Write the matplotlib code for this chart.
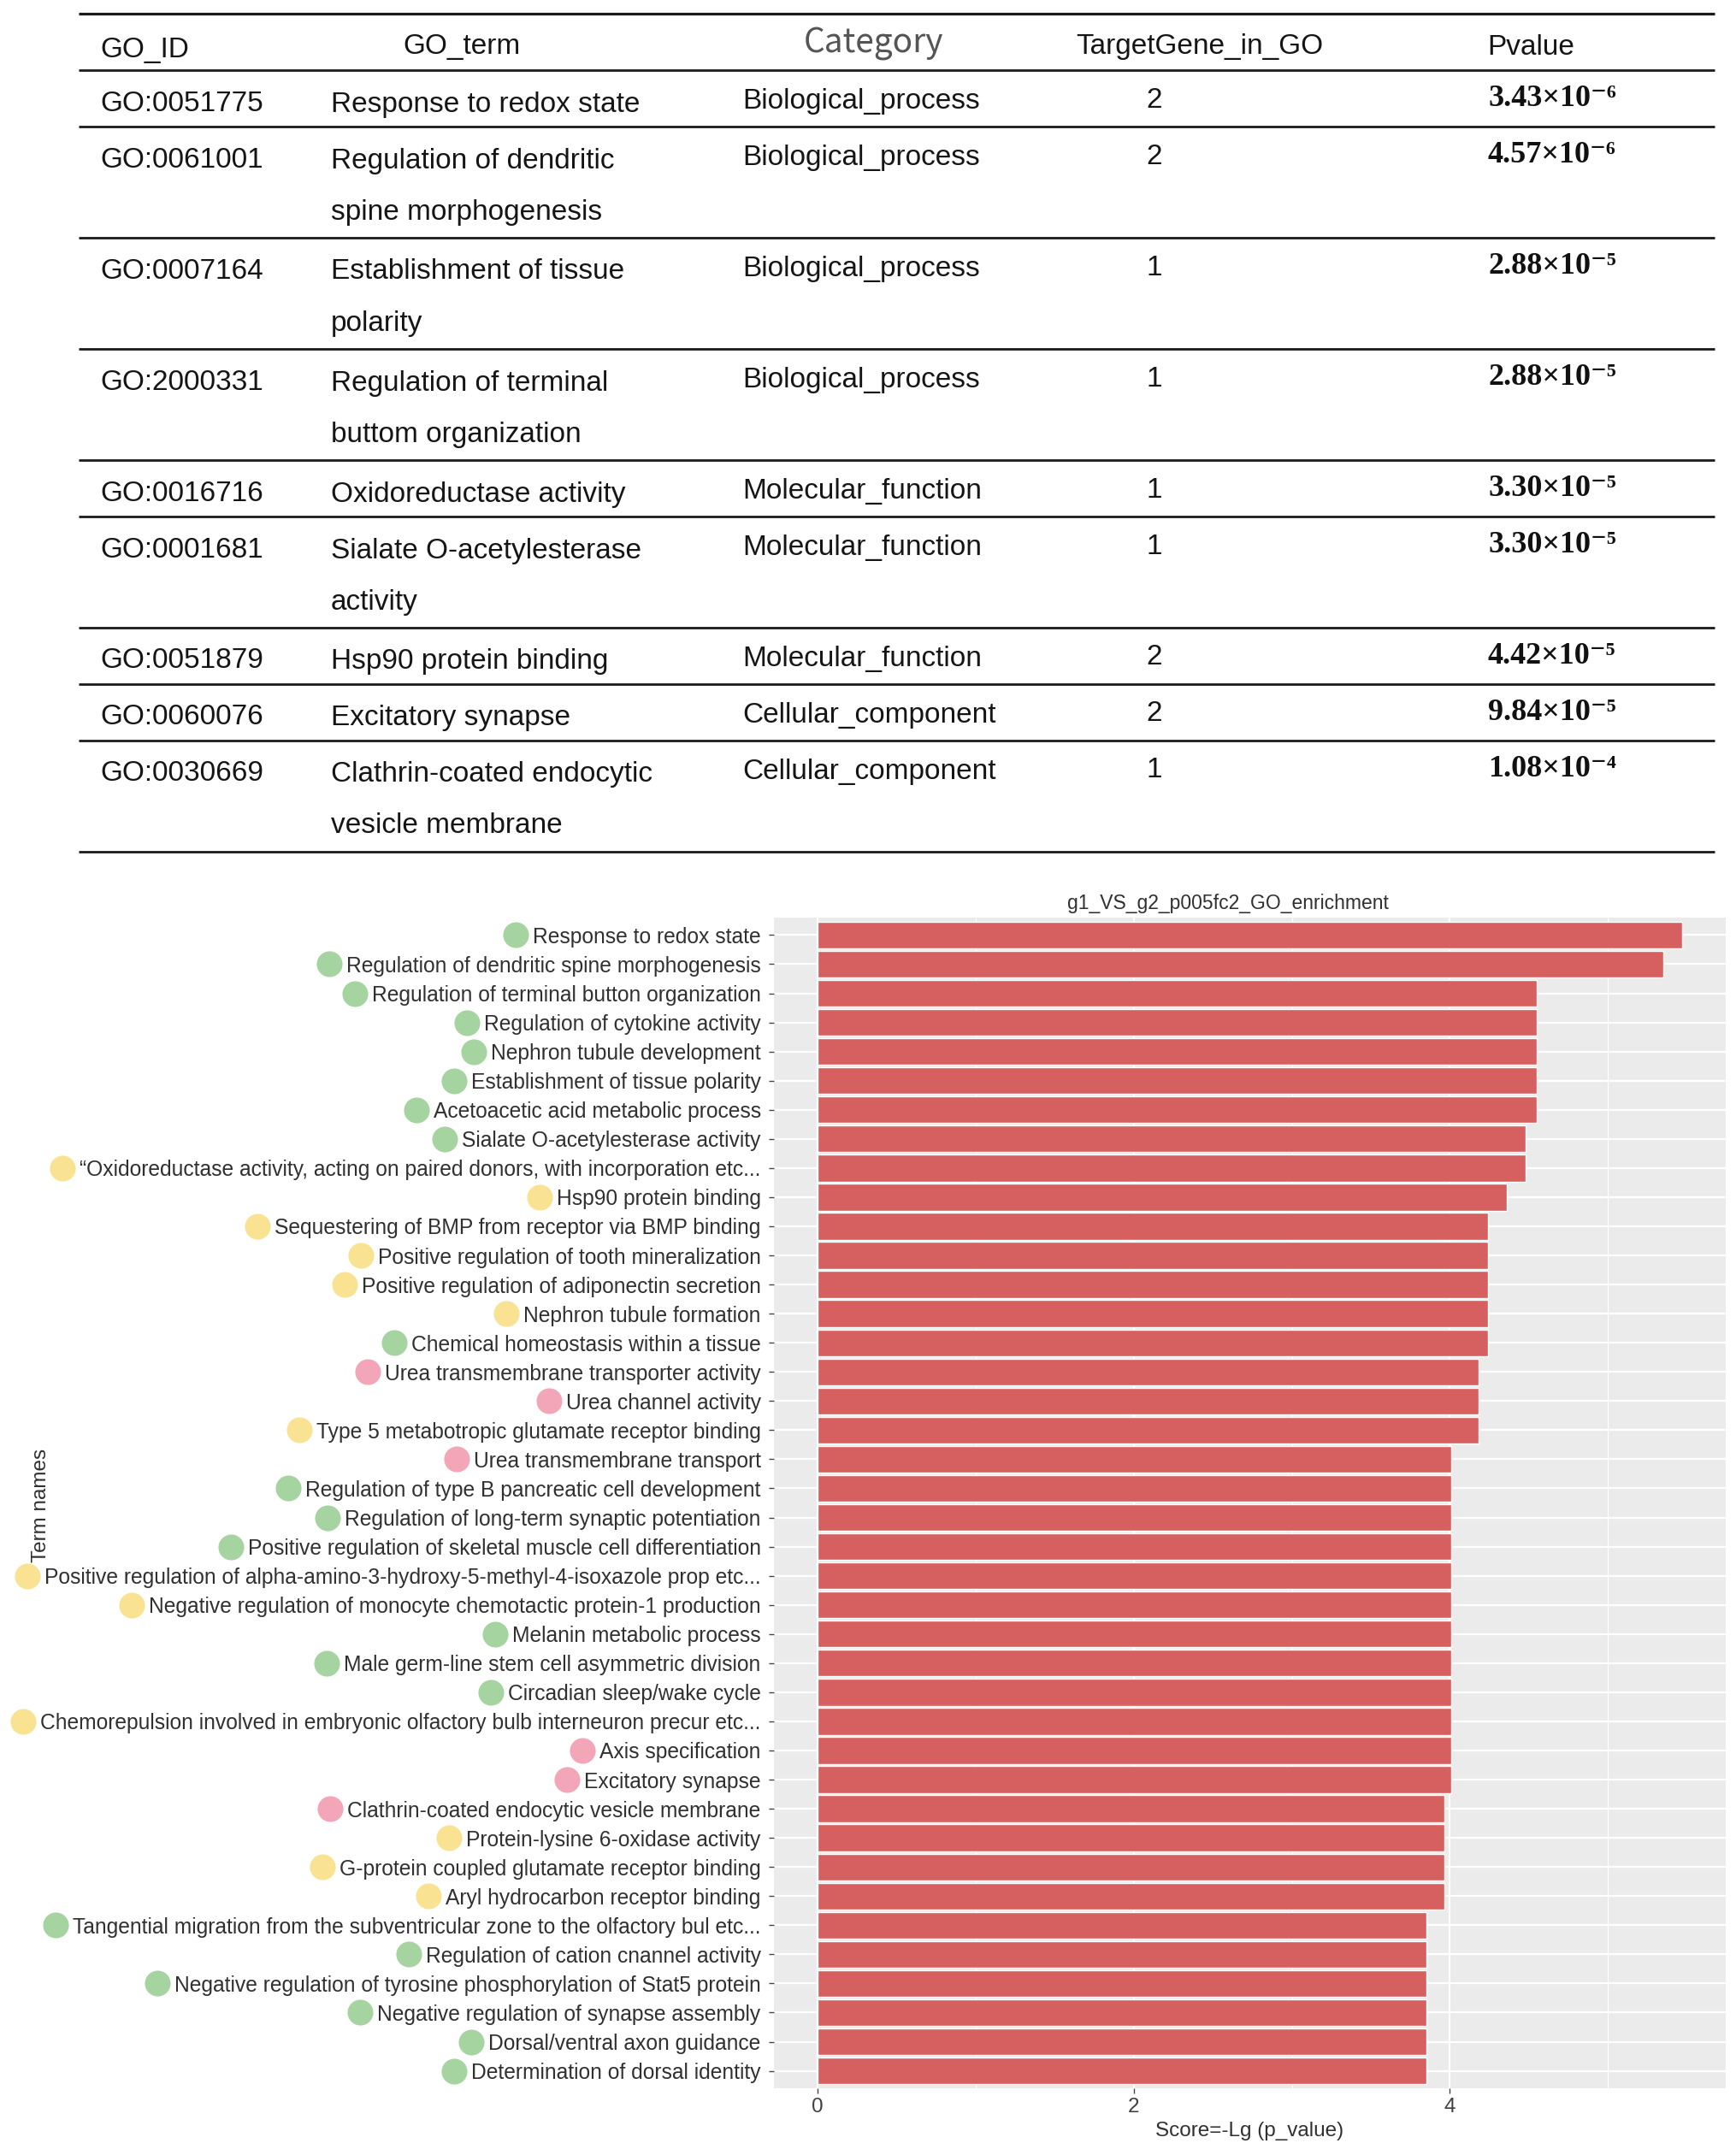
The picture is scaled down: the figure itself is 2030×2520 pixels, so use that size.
import matplotlib
matplotlib.use("Agg")
import matplotlib.pyplot as plt

plt.rcParams["font.family"] = ["Liberation Sans", "DejaVu Sans"]

# ---- table data ----
go_ids = ["GO:0051775", "GO:0061001", "GO:0007164", "GO:2000331", "GO:0016716",
          "GO:0001681", "GO:0051879", "GO:0060076", "GO:0030669"]
go_terms = ["Response to redox state",
            "Regulation of dendritic\nspine morphogenesis",
            "Establishment of tissue\npolarity",
            "Regulation of terminal\nbuttom organization",
            "Oxidoreductase activity",
            "Sialate O-acetylesterase\nactivity",
            "Hsp90 protein binding",
            "Excitatory synapse",
            "Clathrin-coated endocytic\nvesicle membrane"]
categories = ["Biological_process"] * 4 + ["Molecular_function"] * 3 + ["Cellular_component"] * 2
target_genes = [2, 2, 1, 1, 1, 1, 2, 2, 1]
p_mant = [3.43, 4.57, 2.88, 2.88, 3.30, 3.30, 4.42, 9.84, 1.08]
p_exp = [-6, -6, -5, -5, -5, -5, -5, -5, -4]
headers = ["GO_ID", "GO_term", "Category", "TargetGene_in_GO", "Pvalue"]

# ---- bar chart data ----
term_names = [
    "Response to redox state",
    "Regulation of dendritic spine morphogenesis",
    "Regulation of terminal button organization",
    "Regulation of cytokine activity",
    "Nephron tubule development",
    "Establishment of tissue polarity",
    "Acetoacetic acid metabolic process",
    "Sialate O-acetylesterase activity",
    "\u201cOxidoreductase activity, acting on paired donors, with incorporation etc...",
    "Hsp90 protein binding",
    "Sequestering of BMP from receptor via BMP binding",
    "Positive regulation of tooth mineralization",
    "Positive regulation of adiponectin secretion",
    "Nephron tubule formation",
    "Chemical homeostasis within a tissue",
    "Urea transmembrane transporter activity",
    "Urea channel activity",
    "Type 5 metabotropic glutamate receptor binding",
    "Urea transmembrane transport",
    "Regulation of type B pancreatic cell development",
    "Regulation of long-term synaptic potentiation",
    "Positive regulation of skeletal muscle cell differentiation",
    "Positive regulation of alpha-amino-3-hydroxy-5-methyl-4-isoxazole prop etc...",
    "Negative regulation of monocyte chemotactic protein-1 production",
    "Melanin metabolic process",
    "Male germ-line stem cell asymmetric division",
    "Circadian sleep/wake cycle",
    "Chemorepulsion involved in embryonic olfactory bulb interneuron precur etc...",
    "Axis specification",
    "Excitatory synapse",
    "Clathrin-coated endocytic vesicle membrane",
    "Protein-lysine 6-oxidase activity",
    "G-protein coupled glutamate receptor binding",
    "Aryl hydrocarbon receptor binding",
    "Tangential migration from the subventricular zone to the olfactory bul etc...",
    "Regulation of cation cnannel activity",
    "Negative regulation of tyrosine phosphorylation of Stat5 protein",
    "Negative regulation of synapse assembly",
    "Dorsal/ventral axon guidance",
    "Determination of dorsal identity",
]
scores = [5.47, 5.35, 4.55, 4.55, 4.55, 4.55, 4.55, 4.48, 4.48, 4.36,
          4.24, 4.24, 4.24, 4.24, 4.24, 4.18, 4.18, 4.18, 4.01, 4.01,
          4.01, 4.01, 4.01, 4.01, 4.01, 4.01, 4.01, 4.01, 4.01, 4.01,
          3.965, 3.965, 3.965, 3.965, 3.85, 3.85, 3.85, 3.85, 3.85, 3.85]
term_cats = ["BP", "BP", "BP", "BP", "BP", "BP", "BP", "BP", "MF", "MF",
             "MF", "MF", "MF", "MF", "BP", "CC", "CC", "MF", "CC", "BP",
             "BP", "BP", "MF", "MF", "BP", "BP", "BP", "MF", "CC", "CC",
             "CC", "MF", "MF", "MF", "BP", "BP", "BP", "BP", "BP", "BP"]
cat_colors = {"BP": "#A6D4A0", "MF": "#F9E292", "CC": "#F2A6B8"}

SUP = str.maketrans("-0123456789", "\u207b\u2070\u00b9\u00b2\u00b3\u2074\u2075\u2076\u2077\u2078\u2079")

W, H = 2031, 2520
fig = plt.figure(figsize=(W / 100, H / 100), dpi=100)

# ---------------- table ----------------
tbl_h = 1000
ax_t = fig.add_axes([0, 1 - tbl_h / H, 1, tbl_h / H])
ax_t.set_xlim(0, W)
ax_t.set_ylim(tbl_h, 0)
ax_t.axis("off")

x0, x1 = 92, 2005
top = 16
row_h1, row_h2 = 66, 130
txt = dict(fontsize=24, color="#151515", va="center")

ax_t.hlines(top, x0, x1, color="#1a1a1a", lw=2.3)
ax_t.text(117, top + 42, headers[0], ha="left", **txt)
ax_t.text(540, top + 39, headers[1], ha="center", **txt)
ax_t.text(1022, top + 35, headers[2], ha="center", fontsize=28, color="#555555",
          va="center", family=["Noto Sans CJK SC", "DejaVu Sans"])
ax_t.text(1403, top + 39, headers[3], ha="center", **txt)
ax_t.text(1739, top + 39, headers[4], ha="left", **txt)
y = top + row_h1
ax_t.hlines(y, x0, x1, color="#1a1a1a", lw=2.0)

for gid, term, cat, ng, m, e in zip(go_ids, go_terms, categories, target_genes, p_mant, p_exp):
    lines = term.split("\n")
    h = row_h1 if len(lines) == 1 else row_h2
    ax_t.text(117, y + 39, gid, ha="left", **txt)
    for k, ln in enumerate(lines):
        ax_t.text(387, y + 40 + 60 * k, ln, ha="left", **txt)
    ax_t.text(868, y + 37, cat, ha="left", **txt)
    ax_t.text(1350, y + 35, str(ng), ha="center", **txt)
    ptxt = f"{m:.2f}\u00d710" + str(e).translate(SUP)
    ax_t.text(1740, y + 34, ptxt, ha="left", va="center", fontsize=26, fontweight="bold",
              color="#111111", family=["Liberation Serif", "DejaVu Serif"])
    y += h
    ax_t.hlines(y, x0, x1, color="#1a1a1a", lw=2.0)

# ---------------- bar chart ----------------
left, right, bottom, ptop = 905, 2018, 2442, 1073
ax = fig.add_axes([left / W, 1 - bottom / H, (right - left) / W, (bottom - ptop) / H])
ax.set_facecolor("#EBEBEB")
positions = list(range(1, len(term_names) + 1))
ax.barh(positions, scores, height=0.92, color="#D6605F", edgecolor="white", linewidth=1.0, zorder=3)

xmax = max(scores)
ax.set_xlim(-0.05 * xmax, 1.05 * xmax)
ax.set_ylim(len(term_names) + 0.6, 0.4)
ax.set_xticks([0, 2, 4])
ax.set_xticks([1, 3, 5], minor=True)
ax.set_yticks(positions)
ax.set_yticklabels(term_names)
ax.grid(True, which="major", color="white", lw=1.6, zorder=0)
ax.grid(True, which="minor", axis="x", color="white", lw=0.8, zorder=0)
ax.set_axisbelow(True)
for s in ax.spines.values():
    s.set_visible(False)
ax.tick_params(axis="y", which="major", length=4, width=1, color="#444444", pad=7,
               labelsize=17.7, labelcolor="#303030")
ax.tick_params(axis="x", which="major", length=4, width=1, color="#444444", pad=4,
               labelsize=17.5, labelcolor="#404040")
ax.tick_params(axis="x", which="minor", length=0)
fig.text(1436 / W, 1 - 1056 / H, "g1_VS_g2_p005fc2_GO_enrichment", ha="center", va="center",
         fontsize=16.5, color="#303030")
ax.set_xlabel("Score=-Lg (p_value)", fontsize=17.5, color="#303030", labelpad=4)
fig.text(48 / W, 1 - 1760 / H, "Term names", rotation=90, ha="center", va="center",
         fontsize=17.5, color="#303030")

# colored dots left of each term label
fig.canvas.draw()
renderer = fig.canvas.get_renderer()
inv = ax.transData.inverted()
for lab, pos, cat in zip(ax.get_yticklabels(), positions, term_cats):
    bb = lab.get_window_extent(renderer)
    cy = ax.transData.transform((0, pos))[1]
    dx, dy = inv.transform((bb.x0 - 20, cy))
    ax.scatter(dx, dy, s=470, color=cat_colors[cat], linewidths=0, clip_on=False, zorder=5)

fig.savefig("out.png", dpi=100)
